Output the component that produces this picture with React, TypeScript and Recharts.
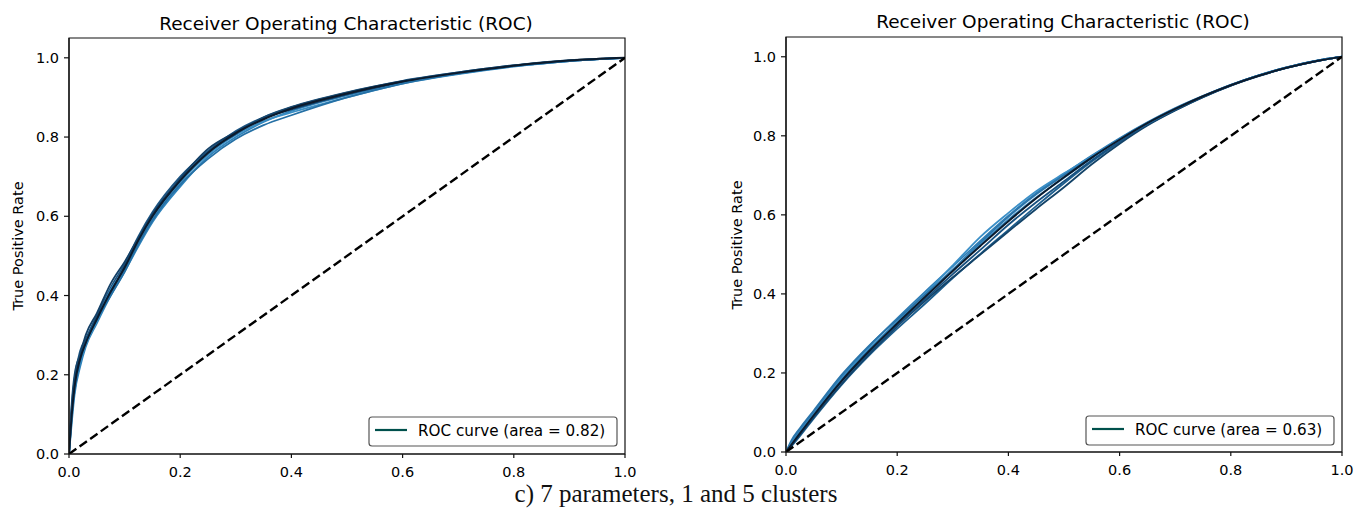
import React from 'react';
import { LineChart, Line, XAxis, YAxis, ReferenceArea } from 'recharts';

const AXIS_TICKS = [0, 0.2, 0.4, 0.6, 0.8, 1.0];
const CHANCE_X = [0, 1];
const CHANCE_Y = [0, 1];

const TITLE = 'Receiver Operating Characteristic (ROC)';
const Y_LABEL = 'True Positive Rate';
const CAPTION = 'c) 7 parameters, 1 and 5 clusters';
const LEFT_AUC = '0.82';
const RIGHT_AUC = '0.63';

// Left panel (1 cluster)
const LEFT_FPR = [0, 0.005, 0.01, 0.02, 0.03, 0.05, 0.075, 0.1, 0.125, 0.15, 0.2, 0.25, 0.3, 0.35, 0.4, 0.5, 0.6, 0.7, 0.8, 0.9, 1];
const LEFT_MEAN_TPR = [0, 0.1, 0.17, 0.24, 0.28, 0.34, 0.41, 0.47, 0.54, 0.6, 0.69, 0.76, 0.81, 0.845, 0.872, 0.91, 0.94, 0.962, 0.98, 0.993, 1];
const LEFT_FOLD_1 = [0, 0.12, 0.19, 0.26, 0.29, 0.35, 0.42, 0.48, 0.55, 0.61, 0.7, 0.765, 0.815, 0.85, 0.875, 0.912, 0.942, 0.963, 0.981, 0.993, 1];
const LEFT_FOLD_2 = [0, 0.08, 0.15, 0.22, 0.27, 0.33, 0.4, 0.46, 0.525, 0.585, 0.675, 0.75, 0.8, 0.838, 0.866, 0.905, 0.937, 0.96, 0.979, 0.992, 1];
const LEFT_FOLD_3 = [0, 0.11, 0.18, 0.25, 0.3, 0.355, 0.43, 0.485, 0.545, 0.605, 0.695, 0.77, 0.812, 0.848, 0.87, 0.908, 0.938, 0.961, 0.98, 0.993, 1];
const LEFT_FOLD_4 = [0, 0.09, 0.16, 0.23, 0.275, 0.335, 0.415, 0.465, 0.535, 0.595, 0.685, 0.755, 0.805, 0.84, 0.862, 0.9, 0.935, 0.959, 0.978, 0.992, 1];
const LEFT_FOLD_5 = [0, 0.13, 0.2, 0.25, 0.285, 0.345, 0.405, 0.475, 0.545, 0.6, 0.692, 0.762, 0.808, 0.85, 0.876, 0.913, 0.941, 0.963, 0.981, 0.994, 1];
const LEFT_FOLD_6 = [0, 0.1, 0.16, 0.235, 0.28, 0.34, 0.4, 0.46, 0.53, 0.59, 0.68, 0.745, 0.795, 0.83, 0.855, 0.9, 0.935, 0.96, 0.979, 0.992, 1];

// Right panel (5 clusters)
const RIGHT_FPR = [0, 0.01, 0.025, 0.05, 0.1, 0.15, 0.2, 0.25, 0.3, 0.35, 0.4, 0.45, 0.5, 0.55, 0.6, 0.65, 0.7, 0.75, 0.8, 0.85, 0.9, 0.95, 1];
const RIGHT_MEAN_TPR = [0, 0.019, 0.047, 0.093, 0.18, 0.256, 0.325, 0.392, 0.458, 0.522, 0.584, 0.642, 0.695, 0.745, 0.79, 0.832, 0.868, 0.9, 0.928, 0.952, 0.972, 0.988, 1];
const RIGHT_FOLD_1 = [0, 0.025, 0.055, 0.1, 0.19, 0.268, 0.338, 0.405, 0.47, 0.535, 0.598, 0.655, 0.703, 0.75, 0.794, 0.834, 0.87, 0.901, 0.929, 0.953, 0.973, 0.989, 1];
const RIGHT_FOLD_2 = [0, 0.015, 0.04, 0.085, 0.17, 0.245, 0.312, 0.375, 0.44, 0.502, 0.562, 0.622, 0.68, 0.735, 0.784, 0.828, 0.865, 0.898, 0.927, 0.952, 0.972, 0.988, 1];
const RIGHT_FOLD_3 = [0, 0.02, 0.05, 0.095, 0.185, 0.262, 0.33, 0.4, 0.472, 0.545, 0.605, 0.66, 0.705, 0.748, 0.792, 0.833, 0.869, 0.9, 0.928, 0.952, 0.972, 0.988, 1];
const RIGHT_FOLD_4 = [0, 0.018, 0.044, 0.088, 0.172, 0.248, 0.318, 0.382, 0.442, 0.5, 0.558, 0.615, 0.67, 0.728, 0.78, 0.826, 0.864, 0.898, 0.927, 0.951, 0.972, 0.988, 1];
const RIGHT_FOLD_5 = [0, 0.03, 0.06, 0.105, 0.195, 0.27, 0.335, 0.398, 0.462, 0.53, 0.595, 0.652, 0.7, 0.746, 0.792, 0.832, 0.868, 0.9, 0.929, 0.953, 0.973, 0.989, 1];
const RIGHT_FOLD_6 = [0, 0.02, 0.047, 0.092, 0.178, 0.252, 0.32, 0.386, 0.45, 0.512, 0.575, 0.632, 0.685, 0.738, 0.786, 0.829, 0.866, 0.899, 0.928, 0.952, 0.972, 0.988, 1];
const RIGHT_FOLD_7 = [0, 0.022, 0.05, 0.096, 0.183, 0.26, 0.327, 0.392, 0.46, 0.526, 0.588, 0.644, 0.694, 0.744, 0.79, 0.831, 0.868, 0.9, 0.928, 0.953, 0.973, 0.989, 1];

const LEFT_COLORS = ['#1c5583', '#2f83bb', '#123f66', '#3a8ec4', '#17486f', '#2570a5'];
const RIGHT_COLORS = ['#2f7db5', '#1d5e8e', '#3b8fc7', '#134368', '#2a75ab', '#17507f', '#3385bd'];

const toPoints = (xs: number[], ys: number[]) => xs.map((x, i) => ({ x, y: ys[i] }));

const FONT = 'DejaVu Sans, Verdana, sans-serif';
const tickStyle = { fontSize: 14.5, fill: '#000', fontFamily: FONT };

type PanelProps = {
  left: number;
  top: number;
  width: number;
  height: number;
  marginTop: number;
  fpr: number[];
  folds: number[][];
  mean: number[];
  colors: string[];
};

function Panel({ left, top, width, height, marginTop, fpr, folds, mean, colors }: PanelProps) {
  const chance = toPoints(CHANCE_X, CHANCE_Y);
  return (
    <div style={{ position: 'absolute', left, top, width, height }}>
      <LineChart width={width} height={height} margin={{ top: marginTop, right: 15, bottom: 0, left: 9 }}>
        <XAxis
          dataKey="x"
          type="number"
          domain={[0, 1]}
          ticks={AXIS_TICKS}
          tickFormatter={(v: number) => v.toFixed(1)}
          tick={tickStyle}
          tickSize={4}
          tickMargin={9}
          height={26}
          stroke="#111"
          strokeWidth={1.2}
          allowDataOverflow
        />
        <YAxis
          dataKey="y"
          type="number"
          domain={[0, 1.05]}
          ticks={AXIS_TICKS}
          tickFormatter={(v: number) => v.toFixed(1)}
          tick={tickStyle}
          tickSize={5}
          tickMargin={5}
          width={60}
          stroke="#111"
          strokeWidth={1.2}
          allowDataOverflow
        />
        <ReferenceArea x1={0} x2={1} y1={0} y2={1.05} stroke="#111" strokeWidth={1.2} fill="none" fillOpacity={0} />
        {folds.map((f, i) => (
          <Line
            key={i}
            data={toPoints(fpr, f)}
            dataKey="y"
            type="monotone"
            stroke={colors[i % colors.length]}
            strokeWidth={1.8}
            dot={false}
            isAnimationActive={false}
          />
        ))}
        <Line data={toPoints(fpr, mean)} dataKey="y" type="monotone" stroke="#0b1a2c" strokeWidth={2} dot={false} isAnimationActive={false} />
        <Line data={chance} dataKey="y" stroke="#000" strokeWidth={2.4} strokeDasharray="9 4" dot={false} isAnimationActive={false} />
      </LineChart>
    </div>
  );
}

function LegendBox({ x, y, auc }: { x: number; y: number; auc: string }) {
  return (
    <g>
      <rect x={x} y={y} width={248} height={29} rx={3} ry={3} fill="#fff" fillOpacity={0.9} stroke="#555" strokeWidth={1.2} />
      <line x1={x + 6} x2={x + 38} y1={y + 13} y2={y + 13} stroke="#00504c" strokeWidth={2.2} />
      <text x={x + 49} y={y + 19} fontFamily={FONT} fontSize={15.2} fill="#000">
        {`ROC curve (area = ${auc})`}
      </text>
    </g>
  );
}

export default function App() {
  return (
    <div style={{ position: 'absolute', left: 0, top: 0, width: 1369, height: 515, background: '#fff', overflow: 'hidden' }}>
      <Panel
        left={0}
        top={0}
        width={640}
        height={480}
        marginTop={38}
        fpr={LEFT_FPR}
        folds={[LEFT_FOLD_1, LEFT_FOLD_2, LEFT_FOLD_3, LEFT_FOLD_4, LEFT_FOLD_5, LEFT_FOLD_6]}
        mean={LEFT_MEAN_TPR}
        colors={LEFT_COLORS}
      />
      <Panel
        left={717}
        top={0}
        width={640}
        height={478}
        marginTop={37}
        fpr={RIGHT_FPR}
        folds={[RIGHT_FOLD_1, RIGHT_FOLD_2, RIGHT_FOLD_3, RIGHT_FOLD_4, RIGHT_FOLD_5, RIGHT_FOLD_6, RIGHT_FOLD_7]}
        mean={RIGHT_MEAN_TPR}
        colors={RIGHT_COLORS}
      />
      <svg width={1369} height={515} style={{ position: 'absolute', left: 0, top: 0, pointerEvents: 'none' }}>
        <text x={346} y={30} textAnchor="middle" fontFamily={FONT} fontSize={18.5} fill="#000">{TITLE}</text>
        <text x={1063} y={28} textAnchor="middle" fontFamily={FONT} fontSize={18.5} fill="#000">{TITLE}</text>
        <text x={23} y={246} textAnchor="middle" transform="rotate(-90 23 246)" fontFamily={FONT} fontSize={14.5} fill="#000">{Y_LABEL}</text>
        <text x={742} y={245} textAnchor="middle" transform="rotate(-90 742 245)" fontFamily={FONT} fontSize={14.5} fill="#000">{Y_LABEL}</text>
        <LegendBox x={369} y={417} auc={LEFT_AUC} />
        <LegendBox x={1086} y={416} auc={RIGHT_AUC} />
        <text x={676} y={502} textAnchor="middle" fontFamily="Liberation Serif, serif" fontSize={25} fill="#111">{CAPTION}</text>
      </svg>
    </div>
  );
}
